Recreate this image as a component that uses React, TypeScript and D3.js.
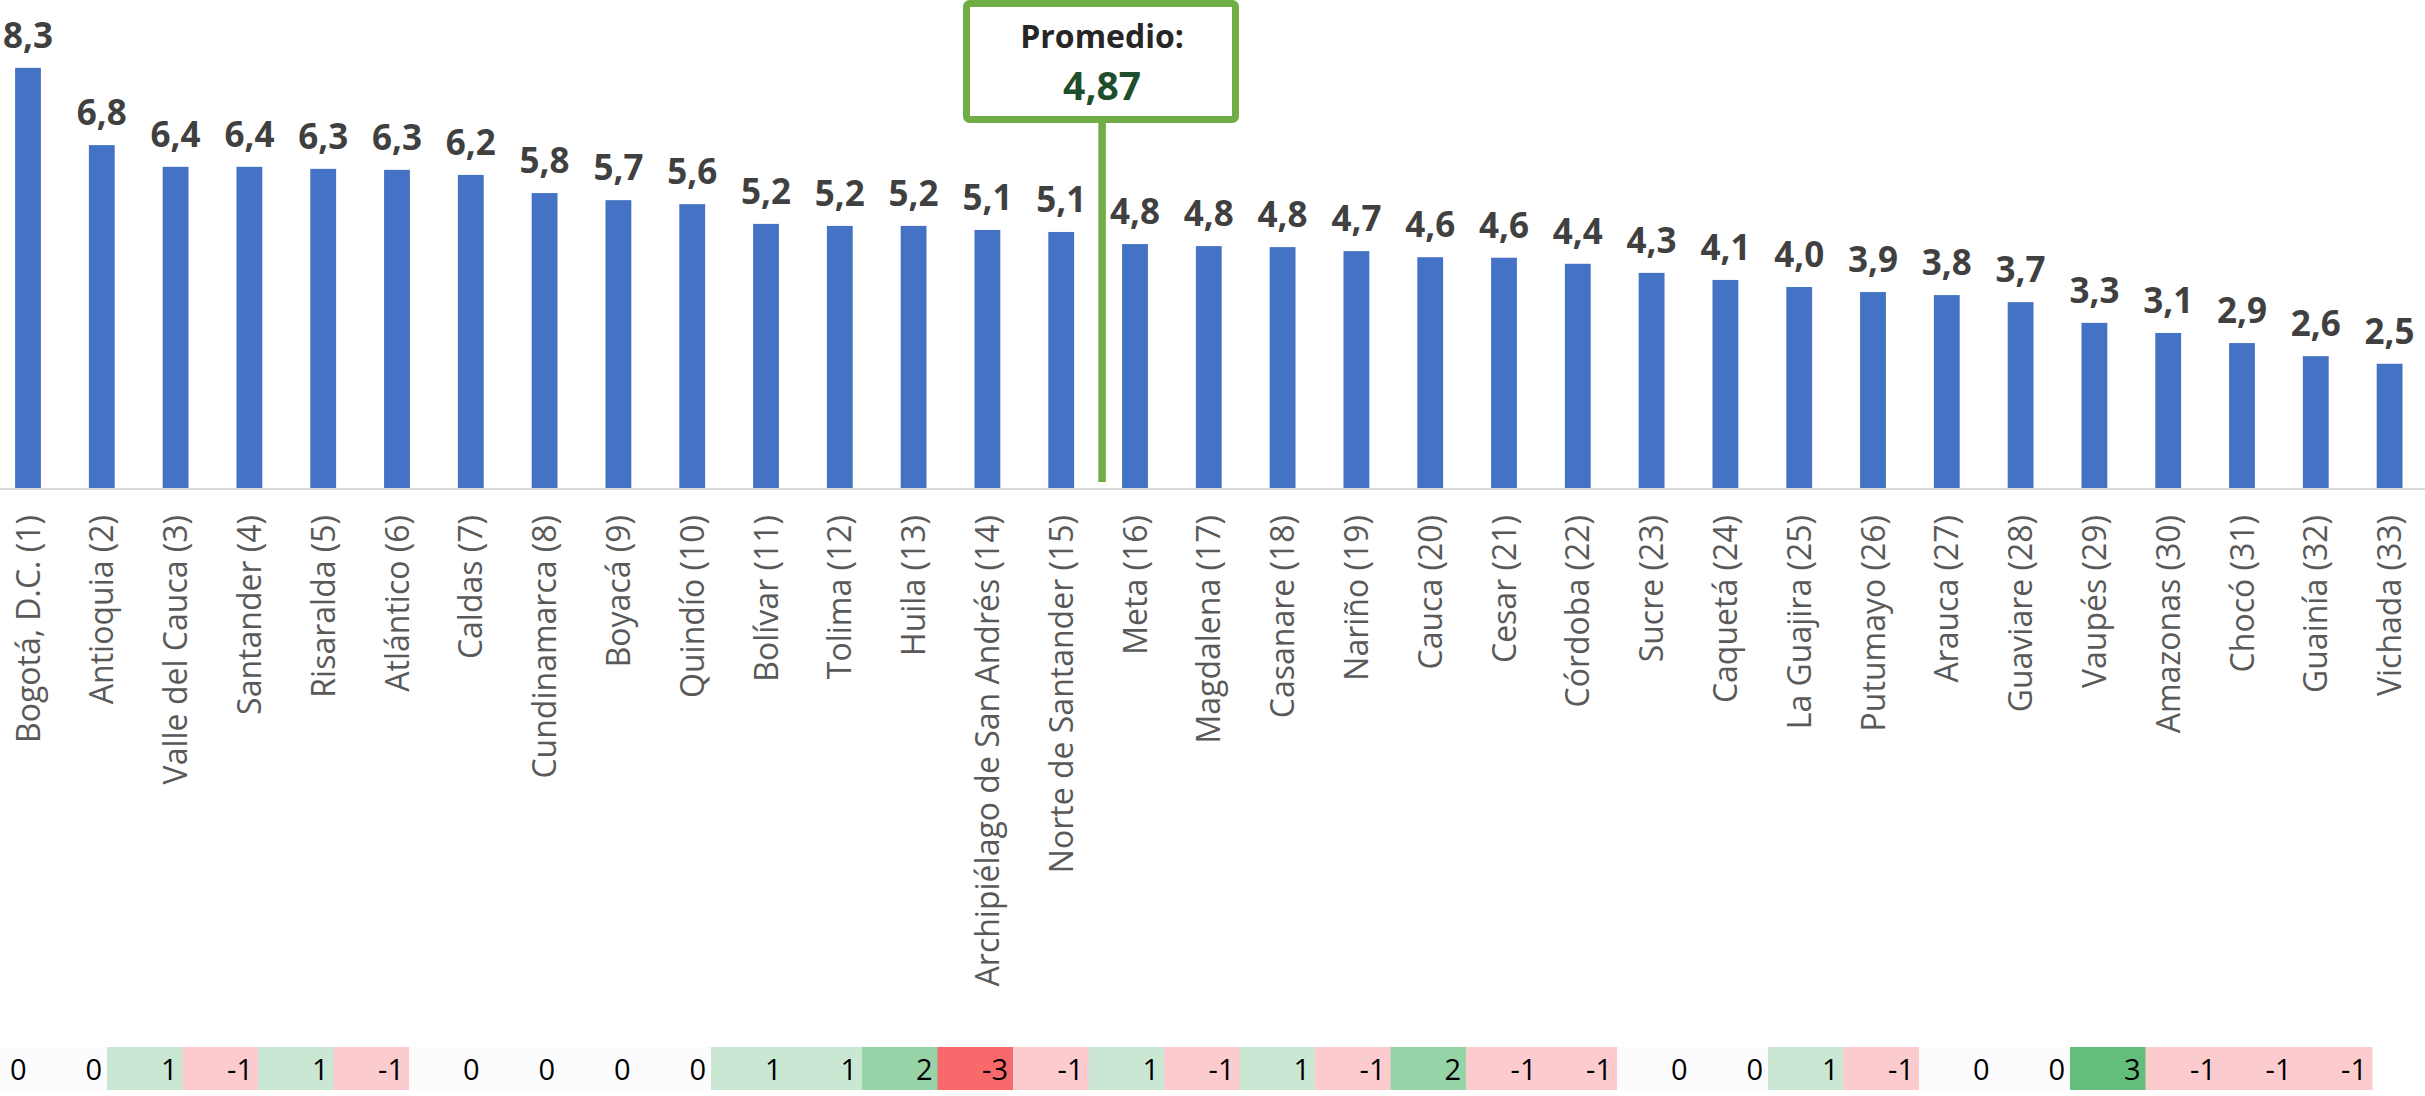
import React from "react";
import * as d3 from "d3";

const categories = [
  "Bogotá, D.C. (1)", "Antioquia (2)", "Valle del Cauca (3)", "Santander (4)", "Risaralda (5)",
  "Atlántico (6)", "Caldas (7)", "Cundinamarca (8)", "Boyacá (9)", "Quindío (10)",
  "Bolívar (11)", "Tolima (12)", "Huila (13)", "Archipiélago de San Andrés (14)", "Norte de Santander (15)",
  "Meta (16)", "Magdalena (17)", "Casanare (18)", "Nariño (19)", "Cauca (20)",
  "Cesar (21)", "Córdoba (22)", "Sucre (23)", "Caquetá (24)", "La Guajira (25)",
  "Putumayo (26)", "Arauca (27)", "Guaviare (28)", "Vaupés (29)", "Amazonas (30)",
  "Chocó (31)", "Guainía (32)", "Vichada (33)",
];

const values = [
  8.32, 6.79, 6.36, 6.36, 6.32, 6.3, 6.2, 5.84, 5.7, 5.62,
  5.23, 5.19, 5.19, 5.11, 5.07, 4.83, 4.79, 4.77, 4.69, 4.57,
  4.56, 4.44, 4.26, 4.12, 3.98, 3.88, 3.82, 3.68, 3.27, 3.07,
  2.87, 2.61, 2.46,
];

const averageLabel = "Promedio:";
const averageValue = "4,87";

const rankChanges = [
  0, 0, 1, -1, 1, -1, 0, 0, 0, 0,
  1, 1, 2, -3, -1, 1, -1, 1, -1, 2,
  -1, -1, 0, 0, 1, -1, 0, 0, 3, -1,
  -1, -1,
];

const W = 2425;
const H = 1096;
const FONT = "'Open Sans', 'Noto Sans', sans-serif";

export default function App() {
  const baseline = 488;
  const x = d3
    .scaleBand<string>()
    .domain(categories)
    .range([-8.9, 2426.5])
    .paddingInner(0.65)
    .paddingOuter(0.325);
  const y = d3.scaleLinear().domain([0, 9]).range([baseline, baseline - 9 * 50.5]);
  const bw = x.bandwidth();
  const cx = (c: string) => (x(c) as number) + bw / 2;

  const avgX = (cx(categories[14]) + cx(categories[15])) / 2 + 4;

  const cellIdx = rankChanges.map((_, i) => String(i));
  const cx2 = d3.scaleBand<string>().domain(cellIdx).range([-44, 2372]).padding(0);
  const color = d3
    .scaleLinear<string>()
    .domain([-3, 0, 3])
    .range(["#F8696B", "#FCFCFF", "#63BE7B"]);
  const fmt = (v: number) => v.toFixed(1).replace(".", ",");

  return (
    <svg
      width={W}
      height={H}
      style={{ position: "fixed", left: 0, top: 0, background: "#fff" }}
      fontFamily={FONT}
    >
      <rect x={0} y={0} width={W} height={H} fill="#fff" />
      {categories.map((c, i) => (
        <rect
          key={c}
          x={x(c)}
          y={y(values[i])}
          width={bw}
          height={baseline - y(values[i])}
          fill="#4472C4"
        />
      ))}
      <line x1={0} x2={W} y1={baseline + 1} y2={baseline + 1} stroke="#D9D9D9" strokeWidth={2} />
      {categories.map((c, i) => (
        <text
          key={"v" + c}
          x={cx(c)}
          y={y(values[i]) - 20}
          textAnchor="middle"
          fontSize={35}
          fontWeight={700}
          fill="#404040"
        >
          {fmt(values[i])}
        </text>
      ))}
      {categories.map((c) => (
        <text
          key={"c" + c}
          transform={`translate(${cx(c)},${baseline + 27}) rotate(-90)`}
          textAnchor="end"
          dy="0.36em"
          fontSize={32}
          fill="#595959"
        >
          {c}
        </text>
      ))}
      <line x1={avgX} x2={avgX} y1={120} y2={482} stroke="#70AD47" strokeWidth={7.5} />
      <rect
        x={966.5}
        y={3.5}
        width={269}
        height={116}
        rx={3}
        fill="#fff"
        stroke="#70AD47"
        strokeWidth={7}
      />
      <text x={avgX} y={48} textAnchor="middle" fontSize={32} fontWeight={700} fill="#262626">
        {averageLabel}
      </text>
      <text x={avgX} y={100} textAnchor="middle" fontSize={39} fontWeight={700} fill="#1F4E2D">
        {averageValue}
      </text>
      <rect x={0} y={1047} width={2372} height={43} fill="#FCFCFF" />
      {rankChanges.map((v, i) => (
        <g key={"r" + i}>
          <rect
            x={cx2(String(i))}
            y={1047}
            width={cx2.bandwidth() + 0.5}
            height={43}
            fill={color(v)}
          />
          <text
            x={(cx2(String(i)) as number) + cx2.bandwidth() - 5}
            y={1080}
            textAnchor="end"
            fontSize={29}
            fill="#000"
          >
            {v}
          </text>
        </g>
      ))}
    </svg>
  );
}
